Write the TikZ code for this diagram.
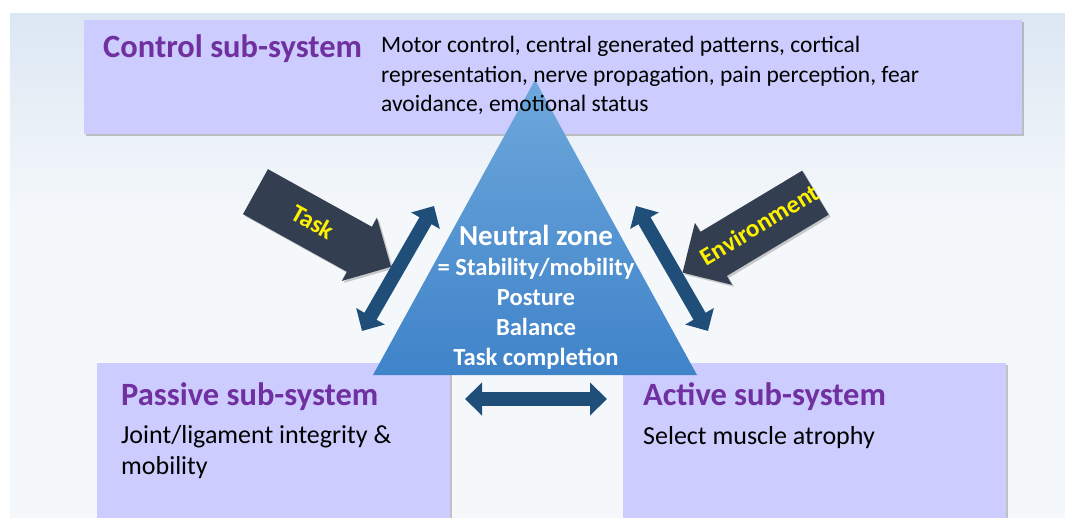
\documentclass[tikz,border=0pt]{standalone}
\usepackage{fontspec}
\setmainfont{Carlito}
\usetikzlibrary{shapes.arrows,arrows.meta,shadows}
\definecolor{slidetop}{HTML}{DCE7F3}
\definecolor{slidebot}{HTML}{F5F8FB}
\definecolor{boxfill}{HTML}{CCCCFF}
\definecolor{ttl}{HTML}{7030A0}
\definecolor{dblue}{HTML}{1F4E79}
\definecolor{slate}{HTML}{333F50}
\definecolor{tritop}{HTML}{6EA8DC}
\definecolor{tribot}{HTML}{3F83C9}
\tikzset{
  subbox/.style={fill=boxfill, drop shadow={shadow xshift=2pt, shadow yshift=-2pt, opacity=0.45}},
  title/.style={anchor=base west, inner sep=0pt, text=ttl, font=\fontsize{32.5}{38}\selectfont\bfseries},
  desc/.style={anchor=base west, inner sep=0pt, align=left},
  push/.style={single arrow, fill=slate, text=yellow, font=\fontsize{25}{28}\selectfont\bfseries,
    text height=16pt, text depth=2pt, inner ysep=16.5pt, inner xsep=0pt,
    single arrow head extend=10.5pt, minimum height=155pt,
    drop shadow={shadow xshift=2pt, shadow yshift=-2pt, opacity=0.4}},
  link/.style={draw=dblue, line width=14pt, {Triangle[width=32pt,length=17pt]}-{Triangle[width=32pt,length=17pt]}}
}
\begin{document}
\begin{tikzpicture}[x=1pt,y=-1pt]
\useasboundingbox (0,0) rectangle (1065,518);
\fill[white] (0,0) rectangle (1065,518);
\fill[slidebot] (10,14) rectangle (1065,518);
\shade[top color=slidetop, bottom color=slidebot] (10,14) rectangle (1065,220);
\path[subbox] (84,20) rectangle (1022,134);
\path[subbox] (97,363) rectangle (450,530);
\path[subbox] (623,363) rectangle (1006,530);
\coordinate (apex) at (535,80);
\coordinate (br) at (697,375);
\coordinate (bl) at (373,375);
\shade[top color=tritop, bottom color=tribot] (apex) -- (br) -- (bl) -- cycle;
\node(ctl)[title] at (103,58) {Control sub-system};
\node(ctltxt)[desc, font=\fontsize{23.5}{29.5}\selectfont] at (381,112)
  {Motor control, central generated patterns, cortical\\representation, nerve propagation, pain perception, fear\\avoidance, emotional status};
\node(nz)[anchor=base, inner sep=0pt, text=white, align=center, font=\fontsize{24.6}{30}\selectfont\bfseries] at (536,366)
  {{\fontsize{29}{30}\selectfont Neutral zone}\\= Stability/mobility\\Posture\\Balance\\Task completion};
\node(pas)[title] at (121,405) {Passive sub-system};
\node(pastxt)[desc, font=\fontsize{26}{31}\selectfont] at (121,474) {Joint/ligament integrity \&\\mobility};
\node(act)[title] at (643,405) {Active sub-system};
\node(acttxt)[desc, font=\fontsize{26}{31}\selectfont] at (643,444) {Select muscle atrophy};
\node(task)[push, rotate=-29] at (312,223) {\makebox[0pt]{Task}};
\node(env)[push, shape border rotate=180, rotate=31] at (760,226) {\makebox[0pt]{Environment}};
\coordinate (lt) at (434,206);
\coordinate (lb) at (362,331);
\coordinate (rt) at (636,206);
\coordinate (rb) at (708,331);
\coordinate (ml) at (465,399);
\coordinate (mr) at (607,399);
\draw[link] (lb) -- (lt);
\draw[link] (rb) -- (rt);
\draw[link] (ml) -- (mr);
\end{tikzpicture}
\end{document}
